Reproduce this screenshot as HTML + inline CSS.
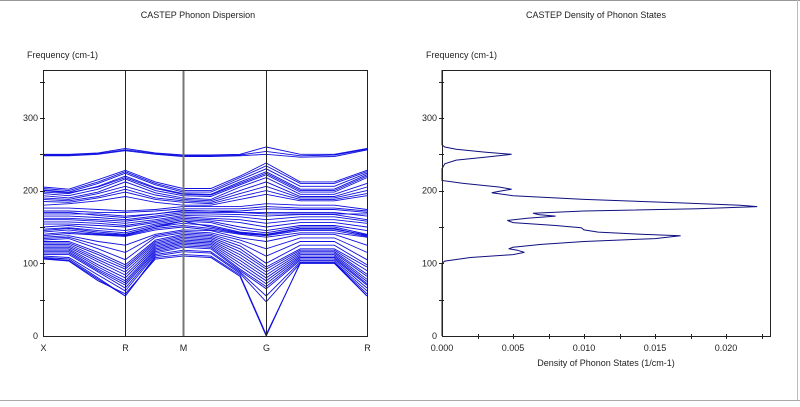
<!DOCTYPE html>
<html><head><meta charset="utf-8"><style>
body{margin:0;width:800px;height:402px;background:#fff;overflow:hidden;font-family:"Liberation Sans",sans-serif}
svg text{font-family:"Liberation Sans",sans-serif;font-size:9px;fill:#222}
</style></head><body>
<svg id="c" width="800" height="402">
<line x1="0" y1="0.5" x2="800" y2="0.5" stroke="#999"/>
<line x1="0" y1="400.5" x2="800" y2="400.5" stroke="#aaa"/>
<line x1="797.5" y1="0" x2="797.5" y2="400" stroke="#bbb"/>
<text x="198" y="18" text-anchor="middle">CASTEP Phonon Dispersion</text>
<text x="596" y="18" text-anchor="middle">CASTEP Density of Phonon States</text>
<text x="27" y="58">Frequency (cm-1)</text>
<text x="426" y="58">Frequency (cm-1)</text>
<text x="606" y="366" text-anchor="middle">Density of Phonon States (1/cm-1)</text>
<g id="L"></g><g id="R"></g>
</svg>
<script>
const kLabels=["X","","","R","","M","","","G","","","R"];
const kPos=[0,0.08,0.17,0.254,0.347,0.432,0.518,0.608,0.689,0.794,0.899,1];
const yTicks=[0,100,200,300];
const bands=[
[250,250,252,258,252,249,249,250,260,250,250,258],
[249,249,251,256,251,248,248,249,254,248,249,257],
[248,248,250,255,250,247,247,248,250,246,247,256],
[205,202,215,228,212,203,203,220,238,212,212,228],
[203,200,212,226,210,200,200,218,234,210,210,226],
[201,198,210,224,208,198,198,215,230,206,206,224],
[198,196,206,220,204,196,195,212,226,202,202,222],
[196,193,202,216,200,193,192,208,222,198,198,218],
[193,190,198,212,197,190,188,205,218,195,195,210],
[190,188,196,206,194,188,186,200,212,192,192,205],
[188,186,192,202,190,186,184,196,206,190,190,200],
[185,184,190,198,188,184,182,192,200,188,188,196],
[180,182,186,192,184,180,180,188,195,186,186,193],
[200,197,205,218,203,195,194,210,224,200,200,220],
[176,176,174,172,174,178,178,178,182,180,180,174],
[172,172,170,170,172,175,175,175,178,176,176,172],
[170,170,166,163,168,173,172,170,168,168,168,168],
[168,168,168,165,168,172,172,172,175,174,174,170],
[165,165,163,160,165,170,170,170,170,170,170,165],
[162,162,160,158,163,168,168,167,165,167,167,160],
[160,160,158,155,160,166,165,164,160,164,164,158],
[157,157,155,152,158,164,162,160,155,160,160,155],
[154,154,152,150,156,162,160,156,150,156,156,150],
[150,152,148,145,154,160,158,150,145,152,152,145],
[147,149,145,142,152,158,156,146,142,150,150,140],
[145,148,143,140,150,158,150,142,139,147,147,139],
[143,146,141,139,150,155,152,143,140,148,148,138],
[140,143,140,138,148,152,148,141,138,145,145,137],
[138,141,139,137,146,150,146,140,136,142,142,136],
[136,138,130,125,140,146,145,135,130,140,140,125],
[134,136,125,115,138,144,142,132,120,135,135,115],
[132,134,120,105,136,142,140,128,110,130,130,105],
[130,130,115,98,132,140,138,124,100,125,125,98],
[128,128,112,95,130,138,136,120,95,120,120,95],
[126,126,108,92,128,136,134,116,92,118,118,90],
[124,124,105,88,126,134,132,112,88,116,116,85],
[122,122,102,84,124,132,130,108,84,114,114,82],
[120,120,98,80,122,130,128,104,80,112,112,78],
[118,118,95,76,120,128,126,100,76,110,110,75],
[116,116,92,73,118,126,124,96,72,108,108,72],
[114,114,90,70,116,124,122,92,68,106,106,70],
[112,112,88,66,114,122,120,90,65,104,104,66],
[110,108,84,62,112,118,116,88,55,102,102,62],
[108,106,80,55,110,116,114,86,47,100,100,55],
[107,104,78,55,108,112,110,84,2,100,100,55],
[106,103,76,58,106,110,108,82,0,101,101,58]
];
const dosFreq=[0,100,103,108,112,115,118,120,122,126,130,134,138,140,143,146,149,152,156,159,162,165,167,169,172,175,178,180,183,188,193,197,199,202,205,210,214,230,237,242,246,250,253,257,260,263,366];
const dosVal=[0,0,0.0002,0.002,0.005,0.0058,0.0053,0.0047,0.005,0.007,0.01,0.015,0.0168,0.014,0.011,0.01,0.0098,0.008,0.005,0.0046,0.006,0.008,0.0068,0.0064,0.01,0.018,0.0222,0.021,0.017,0.01,0.005,0.0035,0.004,0.0049,0.004,0.0015,0,0,0.0002,0.001,0.003,0.0049,0.003,0.001,0.0002,0,0];
const xTicks=[0,0.005,0.010,0.015,0.020];
const NS="http://www.w3.org/2000/svg";
function mk(p,t,a){const e=document.createElementNS(NS,t);for(const k in a)e.setAttribute(k,a[k]);p.appendChild(e);return e;}
const Y0=336,YMAX=366,PT=70;
const yS=v=>Y0-v*(Y0-PT)/YMAX;
const L=document.getElementById('L');
const LX0=43,LX1=367;const xk=f=>LX0+f*(LX1-LX0);
bands.forEach((b,i)=>{
 const p=mk(L,'polyline',{points:b.map((v,j)=>xk(kPos[j]).toFixed(1)+','+yS(v).toFixed(1)).join(' '),fill:'none',stroke:'#1010e0','stroke-width':0.9});
 
 
});
kPos.forEach((f,j)=>{
 if(!kLabels[j])return;
 const x=Math.round(xk(f))+0.5;
 const isM=kLabels[j]==="M";
 const ln=mk(L,'line',{x1:x,y1:PT,x2:x,y2:Y0,stroke:isM?'#777':'#222','stroke-width':isM?2:1});
 
 
 const t=mk(L,'text',{x:x,y:Y0+15,'text-anchor':'middle'});t.textContent=kLabels[j];
 
 
});
function frame(g,x0,x1){
 const r=mk(g,'rect',{x:x0+0.5,y:PT+0.5,width:x1-x0,height:Y0-PT,fill:'none',stroke:'#222'});
 
 
 for(let v=50;v<YMAX;v+=50){const y=Math.round(yS(v))+0.5;mk(g,'line',{x1:x0-3,y1:y,x2:x0+2,y2:y,stroke:'#222'});}
 yTicks.forEach(v=>{const t=mk(g,'text',{x:x0-5,y:yS(v)+3,'text-anchor':'end'});t.textContent=v;
 
 });
}
frame(L,LX0,LX1);
const R=document.getElementById('R');
const RX0=442,RX1=770;const xd=v=>RX0+v*(71/0.005);
const dp=mk(R,'polyline',{points:dosFreq.map((f,i)=>xd(dosVal[i]).toFixed(1)+','+yS(f).toFixed(1)).join(' '),fill:'none',stroke:'#101080','stroke-width':1});


frame(R,RX0,RX1);
for(let v=0.0025;xd(v)<RX1;v+=0.0025){const x=Math.round(xd(v))+0.5;mk(R,'line',{x1:x,y1:Y0-2,x2:x,y2:Y0+3,stroke:'#222'});}
xTicks.forEach(v=>{const t=mk(R,'text',{x:xd(v),y:Y0+15,'text-anchor':'middle'});t.textContent=v.toFixed(3);
 
 });
</script>
</body></html>
